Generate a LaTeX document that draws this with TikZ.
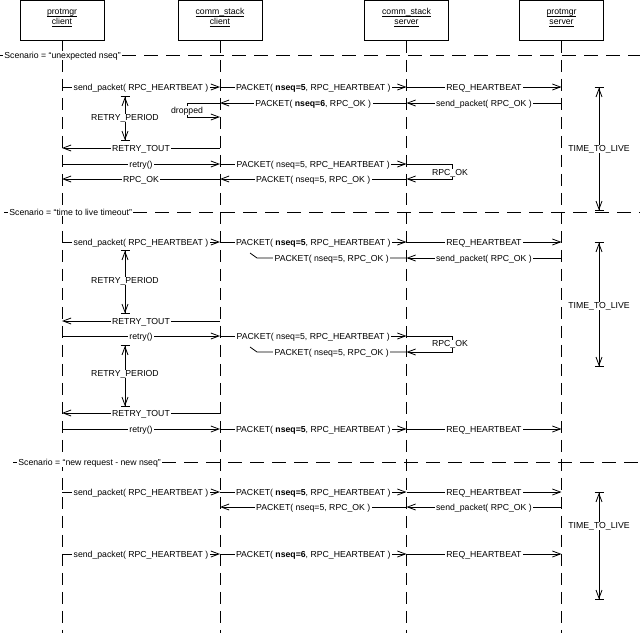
\documentclass[tikz,border=0pt]{standalone}
\usepackage{fontspec}
\setmainfont{Liberation Sans}
\usetikzlibrary{arrows.meta}
\newcommand\ulname[1]{\underline{\smash{#1}}}
% name, from, to, y, label
\newcommand\Msg[5]{\draw[msg] (#2 |- 0,#4) -- node[lbl] (#1) {#5} (#3 |- 0,#4);}
\begin{document}
\begin{tikzpicture}[x=1pt,y=-1pt,line width=0.8pt,
  every node/.style={font=\fontsize{8.7}{10}\selectfont},
  box/.style={draw, minimum width=84pt, minimum height=40pt, align=center, inner sep=0pt},
  life/.style={dash pattern=on 12pt off 7pt},
  sepline/.style={dash pattern=on 14pt off 8pt},
  msg/.style={-{Straight Barb[length=8pt,width=6pt]}},
  lbl/.style={fill=white, inner xsep=1.5pt, inner ysep=0.5pt, anchor=base, yshift=-3.1pt},
  slbl/.style={fill=white, inner xsep=1pt, inner ysep=0.5pt, anchor=base west, yshift=-3.1pt},
  dimline/.style={{Bar[width=9pt]Straight Barb[length=8pt,width=6pt]}-{Straight Barb[length=8pt,width=6pt]Bar[width=9pt]}},
  ]
\useasboundingbox (0,0) rectangle (640,633);

% heads
\node[box] (pc) at (62,20.5) {\ulname{protmgr}\\\ulname{client}};
\node[box] (cc) at (220,20.5) {\ulname{comm\_stack}\\\ulname{client}};
\node[box] (cs) at (406.5,20.5) {\ulname{comm\_stack}\\\ulname{server}};
\node[box] (ps) at (561.5,20.5) {\ulname{protmgr}\\\ulname{server}};
\foreach \h in {pc,cc,cs,ps} \draw[life] (\h.south) -- (\h |- 0,633);

% scenario separators
\node[slbl] (s1) at (3,55) {Scenario = “unexpected nseq”};
\draw (0,55) -- (s1.west |- 0,55);
\draw[sepline] (s1.east |- 0,55) -- (640,55);
\node[slbl] (s2) at (8,212) {Scenario = “time to live timeout”};
\draw (4,212) -- (s2.west |- 0,212);
\draw[sepline] (s2.east |- 0,212) -- (640,212);
\node[slbl] (s3) at (17,462) {Scenario = “new request - new nseq”};
\draw (13,462) -- (s3.west |- 0,462);
\draw[sepline] (s3.east |- 0,462) -- (640,462);

% ---------- scenario 1
\Msg{a1}{pc}{cc}{87}{send\_packet( RPC\_HEARTBEAT )}
\Msg{a2}{cc}{cs}{87}{PACKET( \textbf{nseq=5}, RPC\_HEARTBEAT )}
\Msg{a3}{cs}{ps}{87}{REQ\_HEARTBEAT}
\Msg{a4}{ps}{cs}{103}{send\_packet( RPC\_OK )}
\Msg{a5}{cs}{cc}{103}{PACKET( \textbf{nseq=6}, RPC\_OK )}
\coordinate (d1) at (187,103);
\coordinate (d2) at (187,117);
\draw[msg] (cc |- 0,103) -- (d1) -- (d2) -- (cc |- 0,117);
\node[lbl] (drop) at (187,110) {dropped};
\coordinate (r1t) at (125,96);
\coordinate (r1b) at (125,141);
\draw[dimline] (r1t) -- (r1b);
\node[lbl] (r1) at (125,117) {RETRY\_PERIOD};
\Msg{a6}{cc}{pc}{148}{RETRY\_TOUT}
\Msg{a7}{pc}{cc}{164}{retry()}
\Msg{a8}{cc}{cs}{164}{PACKET( nseq=5, RPC\_HEARTBEAT )}
\coordinate (k1) at (452,164);
\coordinate (k2) at (452,179);
\draw[msg] (cs |- 0,164) -- (k1) -- (k2) -- (cs |- 0,179);
\node[lbl] (ok1) at (450,172) {RPC\_OK};
\Msg{a9}{cs}{cc}{179}{PACKET( nseq=5, RPC\_OK )}
\Msg{a10}{cc}{pc}{179}{RPC\_OK}
\coordinate (t1t) at (599,87);
\coordinate (t1b) at (599,211);
\draw[dimline] (t1t) -- (t1b);
\node[lbl] (ttl1) at (599,148) {TIME\_TO\_LIVE};

% ---------- scenario 2
\Msg{b1}{pc}{cc}{242}{send\_packet( RPC\_HEARTBEAT )}
\Msg{b2}{cc}{cs}{242}{PACKET( \textbf{nseq=5}, RPC\_HEARTBEAT )}
\Msg{b3}{cs}{ps}{242}{REQ\_HEARTBEAT}
\Msg{b4}{ps}{cs}{258}{send\_packet( RPC\_OK )}
\coordinate (l1) at (257,258);
\coordinate (l1m) at (250,253);
\draw (cs |- 0,258) -- node[lbl] (b5) {PACKET( nseq=5, RPC\_OK )} (l1) -- (l1m);
\coordinate (r2t) at (125,250);
\coordinate (r2b) at (125,314);
\draw[dimline] (r2t) -- (r2b);
\node[lbl] (r2) at (125,280) {RETRY\_PERIOD};
\Msg{b6}{cc}{pc}{321}{RETRY\_TOUT}
\Msg{b7}{pc}{cc}{336}{retry()}
\Msg{b8}{cc}{cs}{336}{PACKET( nseq=5, RPC\_HEARTBEAT )}
\coordinate (k3) at (452,336);
\coordinate (k4) at (452,352);
\draw[msg] (cs |- 0,336) -- (k3) -- (k4) -- (cs |- 0,352);
\node[lbl] (ok2) at (450,343) {RPC\_OK};
\coordinate (l2) at (257,352);
\coordinate (l2m) at (250,347);
\draw (cs |- 0,352) -- node[lbl] (b9) {PACKET( nseq=5, RPC\_OK )} (l2) -- (l2m);
\coordinate (r3t) at (125,345);
\coordinate (r3b) at (125,407);
\draw[dimline] (r3t) -- (r3b);
\node[lbl] (r3) at (125,373) {RETRY\_PERIOD};
\Msg{b10}{cc}{pc}{413}{RETRY\_TOUT}
\Msg{b11}{pc}{cc}{429}{retry()}
\Msg{b12}{cc}{cs}{429}{PACKET( \textbf{nseq=5}, RPC\_HEARTBEAT )}
\Msg{b13}{cs}{ps}{429}{REQ\_HEARTBEAT}
\coordinate (t2t) at (599,242);
\coordinate (t2b) at (599,367);
\draw[dimline] (t2t) -- (t2b);
\node[lbl] (ttl2) at (599,305) {TIME\_TO\_LIVE};

% ---------- scenario 3
\Msg{c1}{pc}{cc}{492}{send\_packet( RPC\_HEARTBEAT )}
\Msg{c2}{cc}{cs}{492}{PACKET( \textbf{nseq=5}, RPC\_HEARTBEAT )}
\Msg{c3}{cs}{ps}{492}{REQ\_HEARTBEAT}
\Msg{c4}{ps}{cs}{507}{send\_packet( RPC\_OK )}
\Msg{c5}{cs}{cc}{507}{PACKET( nseq=5, RPC\_OK )}
\Msg{c6}{pc}{cc}{554}{send\_packet( RPC\_HEARTBEAT )}
\Msg{c7}{cc}{cs}{554}{PACKET( \textbf{nseq=6}, RPC\_HEARTBEAT )}
\Msg{c8}{cs}{ps}{554}{REQ\_HEARTBEAT}
\coordinate (t3t) at (599,492);
\coordinate (t3b) at (599,600);
\draw[dimline] (t3t) -- (t3b);
\node[lbl] (ttl3) at (599,525) {TIME\_TO\_LIVE};
\end{tikzpicture}
\end{document}
